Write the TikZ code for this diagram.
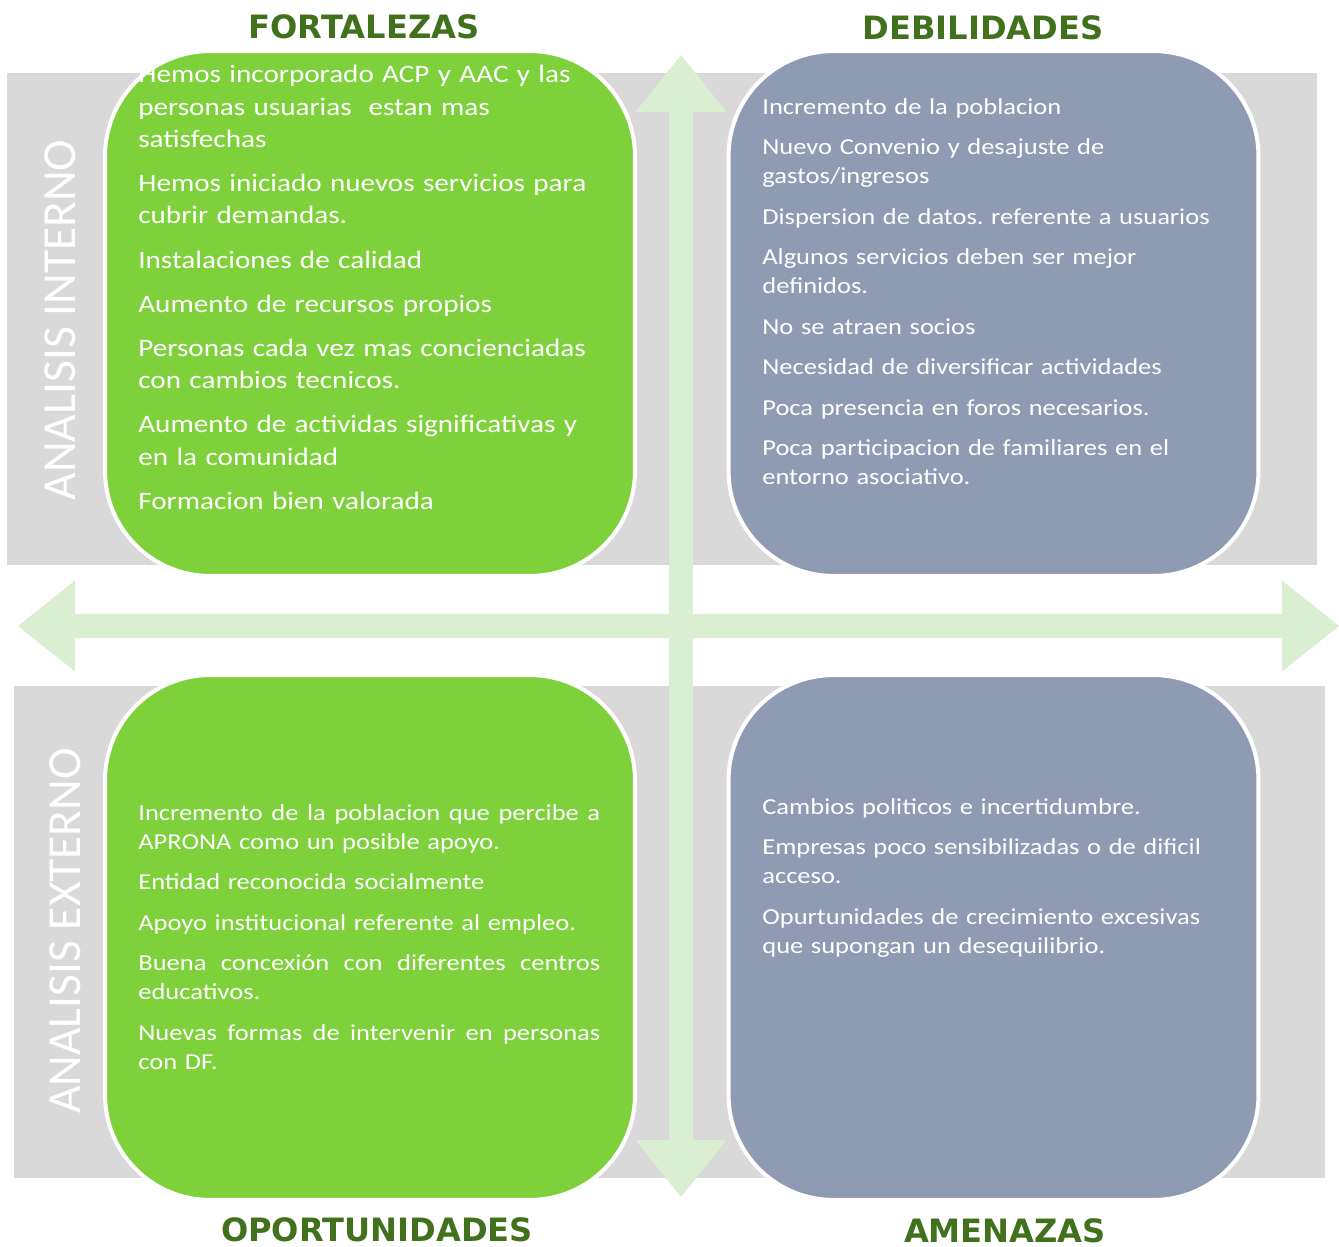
\documentclass[tikz,border=0pt]{standalone}
\usepackage{fontspec}
\setmainfont{Carlito}
\newfontfamily\boxfont{Carlito}[FakeStretch=1.16]
\newfontfamily\titlefont{DejaVu Sans}
\usetikzlibrary{arrows.meta}
\definecolor{bandgray}{HTML}{D9D9D9}
\definecolor{boxgreen}{HTML}{7FD13B}
\definecolor{boxblue}{HTML}{8F9BB3}
\definecolor{arrowgreen}{HTML}{DAEED2}
\definecolor{titlegreen}{HTML}{41711D}
\newcommand{\fullline}[1]{\makebox[9.24cm][s]{\spaceskip=.3em plus 1fil\relax #1}}

\begin{document}
\begin{tikzpicture}[x=0.02cm,y=-0.02cm,band/.style={fill=bandgray},quad box/.style={draw=white,line width=0.08cm,rounded corners=2.1cm,minimum width=10.6cm,minimum height=10.5cm,inner sep=0pt},green box/.style={quad box,fill=boxgreen},blue box/.style={quad box,fill=boxblue},axis arrow/.style={draw=arrowgreen,line width=0.47cm,{Triangle[length=1.14cm,width=1.82cm,line width=0pt]}-{Triangle[length=1.14cm,width=1.82cm,line width=0pt]}},title/.style={anchor=base,text=titlegreen,font=\titlefont\bfseries\fontsize{18.3}{20}\selectfont},side label/.style={rotate=90,text=white,font=\fontsize{27}{30}\selectfont},big list/.style={anchor=base west,inner sep=0pt,text=white,text width=10cm,align=left,font=\boxfont\frenchspacing\fontsize{14.3}{18.3}\selectfont},small list/.style={big list,font=\boxfont\frenchspacing\fontsize{13}{16.7}\selectfont}]
  \useasboundingbox (0,0) rectangle (1339,1247);

  \fill[band] (7,73) rectangle (1317,565);
  \fill[band] (14,686) rectangle (1325,1178);

  \coordinate (up) at (681,55);
  \coordinate (down) at (681,1197);
  \coordinate (left) at (18,626);
  \coordinate (right) at (1339,626);
  \draw[axis arrow] (up) -- (down);
  \draw[axis arrow] (left) -- (right);

  \node[green box] (fortalezas) at (370,313.5) {};
  \node[blue box] (debilidades) at (993.5,313.5) {};
  \node[green box] (oportunidades) at (370,937.5) {};
  \node[blue box] (amenazas) at (993.5,937.5) {};

  \node[title] (fortalezas title) at (364,39) {FORTALEZAS};
  \node[title] (debilidades title) at (983,40) {DEBILIDADES};
  \node[title] (oportunidades title) at (377,1241) {OPORTUNIDADES};
  \node[title] (amenazas title) at (1005,1242) {AMENAZAS};

  \node[side label] (interno) at (60,320) {ANALISIS INTERNO};
  \node[side label] (externo) at (65,931) {ANALISIS EXTERNO};

  \node[big list] (fortalezas list) at (138,83) {Hemos incorporado ACP y AAC y las\\ personas usuarias~ estan mas\\ satisfechas\\[6.9pt]
    Hemos iniciado nuevos servicios para\\ cubrir demandas.\\[6.9pt]
    Instalaciones de calidad\\[6.9pt]
    Aumento de recursos propios\\[6.9pt]
    Personas cada vez mas concienciadas\\ con cambios tecnicos.\\[6.9pt]
    Aumento de actividas significativas y\\ en la comunidad\\[6.9pt]
    Formacion bien valorada};

  \node[small list] (debilidades list) at (762,114) {Incremento de la poblacion\\[6.3pt]
    Nuevo Convenio y desajuste de\\ gastos/ingresos\\[6.3pt]
    Dispersion de datos. referente a usuarios\\[6.3pt]
    Algunos servicios deben ser mejor\\ definidos.\\[6.3pt]
    No se atraen socios\\[6.3pt]
    Necesidad de diversificar actividades\\[6.3pt]
    Poca presencia en foros necesarios.\\[6.3pt]
    Poca participacion de familiares en el\\ entorno asociativo.};

  \node[small list] (oportunidades list) at (138,820) {\fullline{Incremento de la poblacion que percibe a}\\ APRONA como un posible apoyo.\\[6.3pt]
    Entidad reconocida socialmente\\[6.3pt]
    Apoyo institucional referente al empleo.\\[6.3pt]
    \fullline{Buena concexión con diferentes centros}\\ educativos.\\[6.3pt]
    \fullline{Nuevas formas de intervenir en personas}\\ con DF.};

  \node[small list] (amenazas list) at (762,814) {Cambios politicos e incertidumbre.\\[6.3pt]
    Empresas poco sensibilizadas o de dificil\\ acceso.\\[6.3pt]
    Opurtunidades de crecimiento excesivas\\ que supongan un desequilibrio.};
\end{tikzpicture}
\end{document}
